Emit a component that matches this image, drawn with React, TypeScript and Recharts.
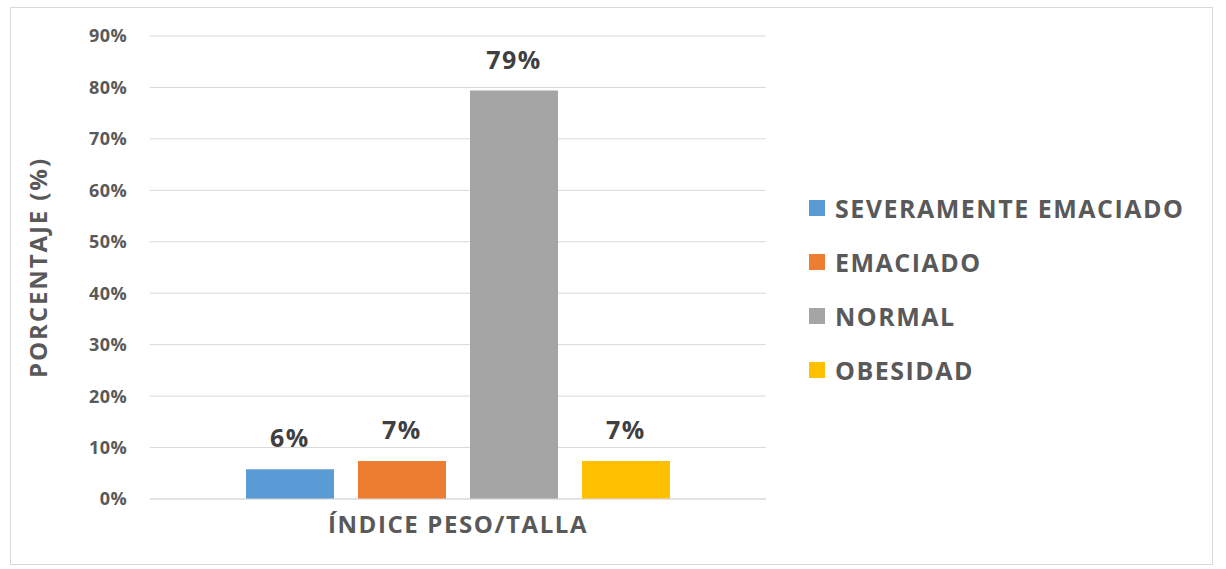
import React from 'react';
import {
  Bar,
  BarChart,
  CartesianGrid,
  Label,
  LabelList,
  Legend,
  XAxis,
  YAxis,
} from 'recharts';

const categories = ['ÍNDICE PESO/TALLA'];
const seriesNames = ['SEVERAMENTE EMACIADO', 'EMACIADO', 'NORMAL', 'OBESIDAD'];
const severamenteEmaciado = [5.8];
const emaciado = [7.4];
const normal = [79.4];
const obesidad = [7.4];
const yTicks = [0, 10, 20, 30, 40, 50, 60, 70, 80, 90];

const colors = ['#5B9BD5', '#ED7D31', '#A5A5A5', '#FFC000'];
const seriesValues = [severamenteEmaciado, emaciado, normal, obesidad];
const font = '"Open Sans", sans-serif';

const chartData = categories.map((name, i) => {
  const row: Record<string, string | number> = { name };
  seriesNames.forEach((s, j) => {
    row[s] = seriesValues[j][i];
  });
  return row;
});

const LegendBox = (props: any) => {
  const items = [...(props.payload || [])].sort(
    (a: any, b: any) => seriesNames.indexOf(a.value) - seriesNames.indexOf(b.value)
  );
  return (
    <div style={{ fontFamily: font }}>
      {items.map((entry: any) => (
        <div
          key={entry.value}
          style={{ display: 'flex', alignItems: 'center', height: 54 }}
        >
          <span
            style={{
              width: 16,
              height: 16,
              background: entry.color,
              marginRight: 10,
              display: 'inline-block',
            }}
          />
          <span
            style={{
              fontSize: 25,
              fontWeight: 700,
              color: '#595959',
              letterSpacing: 1.5,
              whiteSpace: 'nowrap',
            }}
          >
            {entry.value}
          </span>
        </div>
      ))}
    </div>
  );
};

export default function App() {
  return (
    <div
      style={{
        position: 'absolute',
        left: 10,
        top: 7,
        width: 1203,
        height: 558,
        boxSizing: 'border-box',
        border: '1px solid #d9d9d9',
        background: '#fff',
      }}
    >
      <BarChart
        width={1201}
        height={556}
        data={chartData}
        margin={{ top: 28, right: 446, bottom: 35, left: 0 }}
        barCategoryGap={96}
        barGap={24}
      >
        <CartesianGrid vertical={false} stroke="#d9d9d9" />
        <XAxis
          dataKey="name"
          height={30}
          axisLine={{ stroke: '#d9d9d9' }}
          tickLine={false}
          tickMargin={11}
          tick={{
            fill: '#595959',
            fontSize: 24,
            fontWeight: 700,
            fontFamily: font,
            letterSpacing: 1.6,
          }}
        />
        <YAxis
          width={139}
          domain={[0, 90]}
          ticks={yTicks}
          interval={0}
          axisLine={false}
          tickLine={false}
          tickMargin={17}
          tickFormatter={(v) => `${v}%`}
          tick={{
            fill: '#595959',
            fontSize: 18,
            fontWeight: 700,
            fontFamily: font,
            letterSpacing: 0.4,
          }}
        >
          <Label
            value="PORCENTAJE (%)"
            angle={-90}
            position="insideLeft"
            offset={27}
            style={{
              textAnchor: 'middle',
              fill: '#595959',
              fontSize: 24,
              fontWeight: 700,
              fontFamily: font,
              letterSpacing: 1.9,
            }}
          />
        </YAxis>
        <Legend
          layout="vertical"
          align="center"
          verticalAlign="middle"
          content={<LegendBox />}
          wrapperStyle={{ left: 798, top: 173, width: 400 }}
        />
        {seriesNames.map((s, j) => (
          <Bar key={s} dataKey={s} fill={colors[j]} isAnimationActive={false}>
            <LabelList
              dataKey={s}
              position="top"
              offset={22}
              formatter={(v: any) => `${Math.round(Number(v))}%`}
              style={{
                fill: '#404040',
                fontSize: 25,
                fontWeight: 700,
                fontFamily: font,
                letterSpacing: 1.5,
              }}
            />
          </Bar>
        ))}
      </BarChart>
    </div>
  );
}
